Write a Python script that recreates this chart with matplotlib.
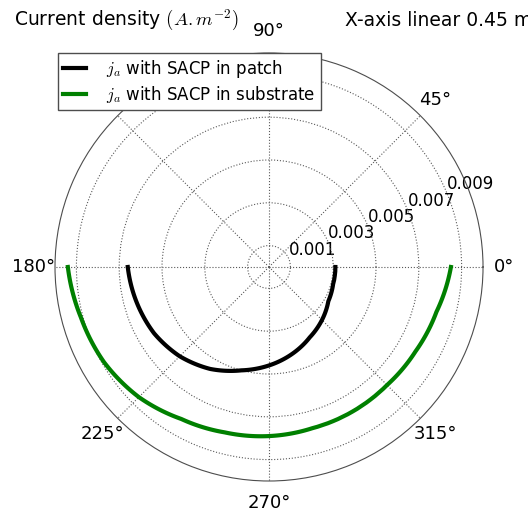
import numpy as np
from matplotlib import pyplot as plt

plt.rcParams['mathtext.fontset'] = 'cm'
plt.rcParams['font.family'] = ['DejaVu Sans']

# angles (degrees) and current density values
theta_deg = [180, 195, 210, 225, 240, 255, 270, 285, 300, 315, 330, 345, 360]
j_patch = [0.0066, 0.0064, 0.0062, 0.0059, 0.0055, 0.0050, 0.0046,
           0.0042, 0.0038, 0.0035, 0.0032, 0.0031, 0.0031]
j_substrate = [0.0094, 0.0091, 0.0089, 0.0086, 0.0082, 0.0080, 0.0079,
               0.0078, 0.0078, 0.0078, 0.0079, 0.0081, 0.0085]
r_ticks = [0.001, 0.003, 0.005, 0.007, 0.009]
theta_ticks = [0, 45, 90, 135, 180, 225, 270, 315]

fig = plt.figure(figsize=(5.28, 5.11), dpi=100)
ax = fig.add_axes([0.104, 0.0587, 0.811, 0.8376], projection='polar')

th = np.radians(theta_deg)
l1, = ax.plot(th, j_patch, color='k', lw=3, label=r'$j_a$ with SACP in patch')
l2, = ax.plot(th, j_substrate, color='green', lw=3, label=r'$j_a$ with SACP in substrate')
# let the polar transform draw arcs between the points
for ln in (l1, l2):
    ln.get_path()._interpolation_steps = 40

ax.set_ylim(0, 0.01)
ax.set_yticks(r_ticks)
ax.set_yticklabels(['%.3f' % v for v in r_ticks], fontsize=12)
ax.set_rlabel_position(22.5)
ax.set_thetagrids(theta_ticks, ['%d°' % t for t in theta_ticks], fontsize=13)
ax.tick_params(axis='x', pad=5)
ax.grid(True, color='0.35', linestyle=':', linewidth=0.8)
ax.spines['polar'].set_linewidth(0.8)
ax.spines['polar'].set_color('0.3')

leg = ax.legend(loc='upper left', bbox_to_anchor=(58 / 528, 1 - 53 / 511),
                bbox_transform=fig.transFigure, borderaxespad=0,
                fontsize=12, fancybox=False, framealpha=1,
                labelspacing=0.25, handlelength=1.4, borderpad=0.3,
                handletextpad=1.2)
leg.get_frame().set_edgecolor('0.3')
leg.set_zorder(10)

fig.text(14 / 528, 1 - 20 / 511, r'Current density $(A.m^{-2})$', fontsize=13.5,
         va='center', ha='left')
fig.text(345 / 528, 1 - 20 / 511, 'X-axis linear 0.45 m', fontsize=13.5,
         va='center', ha='left')

plt.savefig('out.png', dpi=100)
